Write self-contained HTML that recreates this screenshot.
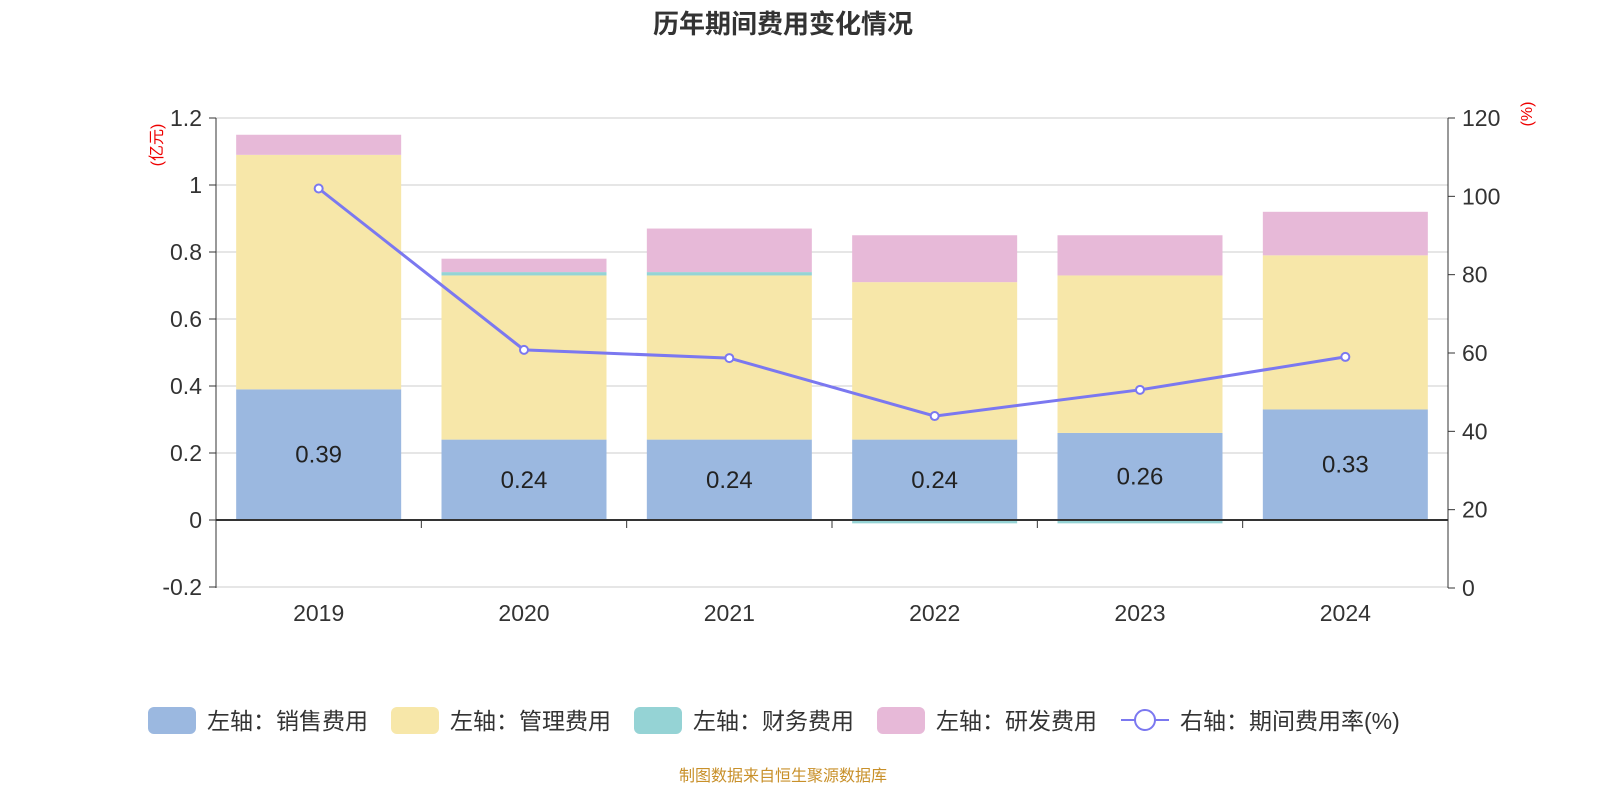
<!DOCTYPE html>
<html><head><meta charset="utf-8"><style>
body{margin:0;background:#fff;}
svg text{font-family:"Liberation Sans","Noto Sans CJK SC",sans-serif;}
</style></head><body>
<svg id="c" width="1600" height="800" xmlns="http://www.w3.org/2000/svg">
<text x="783" y="33" text-anchor="middle" font-size="26" font-weight="bold" fill="#333">历年期间费用变化情况</text>
<text transform="translate(162,145) rotate(-90)" text-anchor="middle" font-size="16" fill="#e00">(亿元)</text>
<text transform="translate(1532,114) rotate(-90)" text-anchor="middle" font-size="16" fill="#e00">(%)</text>
<g id="grid"></g><g id="bars"></g><g id="axes"></g><g id="line"></g>
<g id="legend"></g>
<text x="783" y="781" text-anchor="middle" font-size="16" fill="#c8902a">制图数据来自恒生聚源数据库</text>
</svg>
<script>
const categories=["2019","2020","2021","2022","2023","2024"];
const sales=[0.39,0.24,0.24,0.24,0.26,0.33];
const mgmt=[0.70,0.49,0.49,0.47,0.47,0.46];
const finance=[0,0.01,0.01,-0.01,-0.01,0];
const rnd=[0.06,0.04,0.13,0.14,0.12,0.13];
const rate=[102,60.8,58.7,43.9,50.6,59];
const leftTicks=[-0.2,0,0.2,0.4,0.6,0.8,1,1.2];
const rightTicks=[0,20,40,60,80,100,120];
const NS="http://www.w3.org/2000/svg";
const X0=216,X1=1448,yTop=118,yBot=588;
const yL=v=>520-(v)*(520-118)/1.2;
const yR=v=>588-v*(588-118)/120;
const band=(X1-X0)/categories.length;
const xC=i=>X0+band*(i+0.5);
function mk(t,a,p){const e=document.createElementNS(NS,t);for(const k in a)e.setAttribute(k,a[k]);document.getElementById(p).appendChild(e);return e;}
leftTicks.forEach(v=>{
 const l=mk('line',{x1:X0,x2:X1,y1:yL(v),y2:yL(v),stroke:'#ccc','stroke-width':1},'grid');
 
 
 const tk=mk('line',{x1:X0-7,x2:X0,y1:yL(v),y2:yL(v),stroke:'#333'},'axes');
 
 
 const t=mk('text',{x:X0-14,y:yL(v)+8,'text-anchor':'end','font-size':23,fill:'#333'},'axes');
 t.textContent=String(v);
 
 
});
rightTicks.forEach(v=>{
 const tk=mk('line',{x1:X1,x2:X1+7,y1:yR(v),y2:yR(v),stroke:'#333'},'axes');
 
 
 const t=mk('text',{x:X1+14,y:yR(v)+8,'font-size':23,fill:'#333'},'axes');
 t.textContent=String(v);
 
 
});
let a=mk('line',{x1:X0,x2:X0,y1:yTop,y2:yBot,stroke:'#333'},'axes');


a=mk('line',{x1:X1,x2:X1,y1:yTop,y2:yBot,stroke:'#333'},'axes');


a=mk('line',{x1:X0,x2:X1,y1:yL(0),y2:yL(0),stroke:'#333','stroke-width':2},'axes');


for(let i=0;i<=categories.length;i++){
 const x=X0+band*i;
 const tk=mk('line',{x1:x,x2:x,y1:yL(0),y2:yL(0)+8,stroke:'#333'},'axes');
 
 
}
const bw=165;
function rect(p,v0,v1,i,fill,name){
 const y=Math.min(yL(v0),yL(v1)),h=Math.abs(yL(v0)-yL(v1));
 const r=mk('rect',{x:xC(i)-bw/2,y:y,width:bw,height:h,fill:fill},p);
 
 
}
categories.forEach((c,i)=>{
 rect('bars',0,sales[i],i,'#9bb8e0','bar-sales-'+c);
 const top1=sales[i]+mgmt[i];
 rect('bars',sales[i],top1,i,'#f7e7a9','bar-admin-'+c);
 let top2=top1;
 if(finance[i]>=0){rect('bars',top1,top1+finance[i],i,'#95d3d5','bar-finance-'+c);top2=top1+finance[i];}
 else rect('bars',0,finance[i],i,'#95d3d5','bar-finance-'+c);
 rect('bars',top2,top2+rnd[i],i,'#e7b9d8','bar-rnd-'+c);
 const t=mk('text',{x:xC(i),y:yL(sales[i]/2)+8,'text-anchor':'middle','font-size':24,fill:'#222'},'bars');
 t.textContent=sales[i].toFixed(2);
 
 
 const xl=mk('text',{x:xC(i),y:621,'text-anchor':'middle','font-size':23,fill:'#333'},'axes');
 xl.textContent=c;
 
 
});
const pl=mk('polyline',{points:rate.map((v,i)=>xC(i)+','+yR(v)).join(' '),fill:'none',stroke:'#7b78f0','stroke-width':3},'line');


rate.forEach((v,i)=>{
 const c=mk('circle',{cx:xC(i),cy:yR(v),r:4,fill:'#fff',stroke:'#7b78f0','stroke-width':2},'line');
 
 
});
const legItems=[["左轴：销售费用","#9bb8e0",148],["左轴：管理费用","#f7e7a9",391],["左轴：财务费用","#95d3d5",634],["左轴：研发费用","#e7b9d8",877]];
legItems.forEach(([t,c,x])=>{
 const r=mk('rect',{x:x,y:707,width:48,height:27,rx:6,fill:c},'legend');
 
 
 const tx=mk('text',{x:x+59,y:729,'font-size':23,fill:'#333'},'legend');
 tx.textContent=t;
 
 
});
let l=mk('line',{x1:1121,x2:1169,y1:720,y2:720,stroke:'#7b78f0','stroke-width':2},'legend');


l=mk('circle',{cx:1145,cy:720,r:10,fill:'#fff',stroke:'#7b78f0','stroke-width':2},'legend');


l=mk('text',{x:1180,y:729,'font-size':23,fill:'#333'},'legend');
l.textContent="右轴：期间费用率(%)";


</script>
</body></html>
